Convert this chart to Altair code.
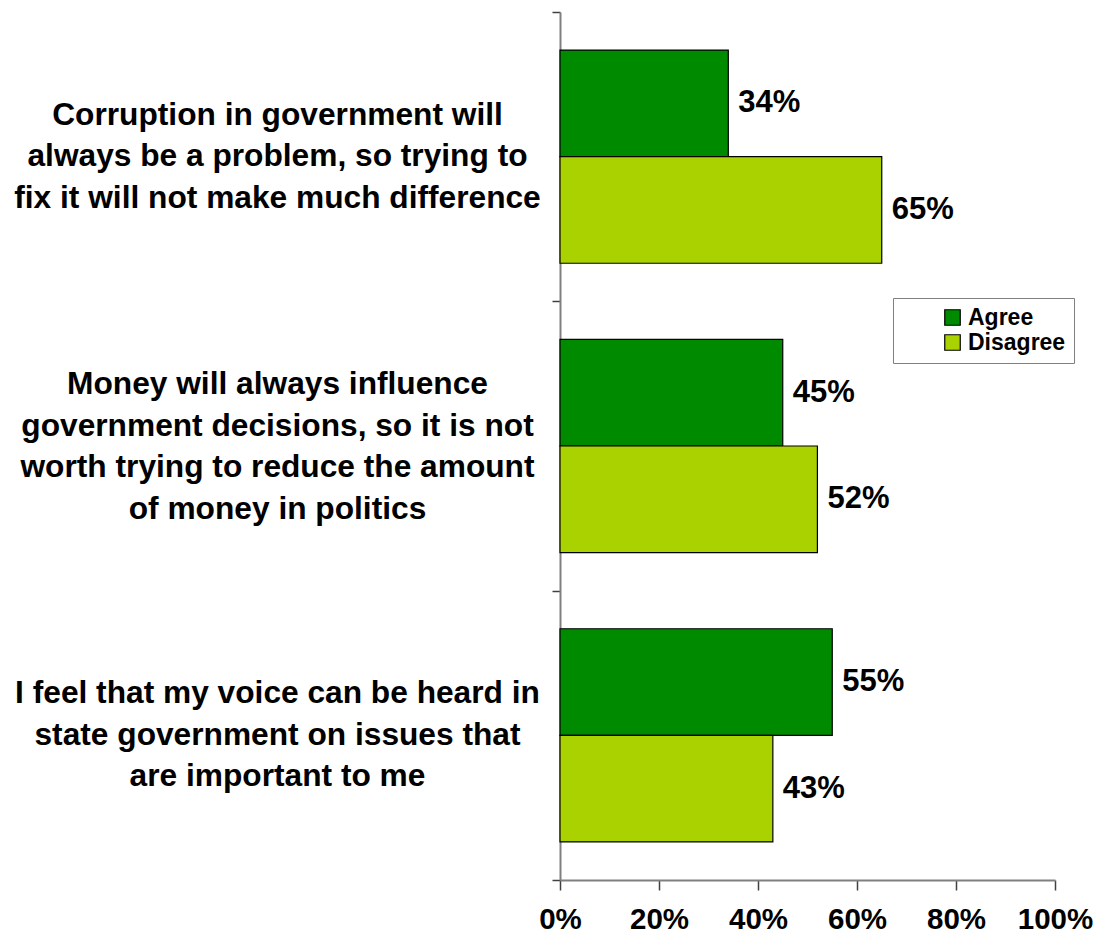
import altair as alt
import pandas as pd

categories = [
    "Corruption in government will|always be a problem, so trying to|fix it will not make much difference",
    "Money will always influence|government decisions, so it is not|worth trying to reduce the amount|of money in politics",
    "I feel that my voice can be heard in|state government on issues that|are important to me",
]
series = ["Agree", "Disagree"]
agree = [34, 45, 55]
disagree = [65, 52, 43]
x_ticks = [0, 20, 40, 60, 80, 100]
colors = ["#008A00", "#AAD200"]

rows = []
for c, a, d in zip(categories, agree, disagree):
    rows.append({"cat": c, "series": "Agree", "value": a})
    rows.append({"cat": c, "series": "Disagree", "value": d})
df = pd.DataFrame(rows)

FONT = "Liberation Sans"
LH = 41.5

y_enc = alt.Y(
    "cat:N",
    sort=categories,
    scale=alt.Scale(paddingInner=0, paddingOuter=0),
    axis=alt.Axis(
        title=None,
        tickBand="extent",
        tickSize=8,
        labelPadding=275,
        labelAlign="center",
        labelBaseline="middle",
        labelExpr="split(datum.label, '|')",
        labelLineHeight=LH,
        labelOffset={
            "condition": {"test": "length(split(datum.label, '|')) == 4", "value": -1.5 * LH},
            "value": -1.0 * LH - 1,
        },
        labelLimit=0,
        labelFont=FONT,
        labelFontSize=31.7,
        labelFontWeight="bold",
        labelColor="black",
        domainColor="#808080",
        domainWidth=2,
        tickColor="#404040",
        tickWidth=1.5,
    ),
)
x_enc = alt.X(
    "value:Q",
    scale=alt.Scale(domain=[0, 100], nice=False),
    axis=alt.Axis(
        title=None,
        values=x_ticks,
        grid=False,
        tickSize=10,
        labelPadding=15,
        labelExpr="datum.value + '%'",
        labelFont=FONT,
        labelFontSize=29.5,
        labelFontWeight="bold",
        labelColor="black",
        domainColor="#808080",
        domainWidth=2,
        tickColor="#404040",
        tickWidth=1.5,
        labelFlush=False,
    ),
)
yoff = alt.YOffset("series:N", sort=series, scale=alt.Scale(paddingInner=0, paddingOuter=0.357))

bars = alt.Chart(df).mark_bar(stroke="black", strokeWidth=1.2).encode(
    x=x_enc,
    y=y_enc,
    yOffset=yoff,
    color=alt.Color(
        "series:N",
        sort=series,
        scale=alt.Scale(domain=series, range=colors),
        legend=alt.Legend(
            title=None,
            orient="none",
            legendX=333,
            legendY=286,
            direction="vertical",
            symbolType="square",
            symbolSize=240,
            symbolStrokeColor="black",
            symbolStrokeWidth=1.2,
            symbolOffset=40,
            labelFont=FONT,
            labelFontSize=23,
            labelFontWeight="bold",
            labelColor="black",
            rowPadding=1,
            padding=8,
            strokeColor="#808080",
            fillColor="white",
            labelOffset=4,
        ),
    ),
)

labels = alt.Chart(df).transform_calculate(
    txt="datum.value + '%'"
).mark_text(
    align="left", baseline="middle", dx=10, font=FONT, fontSize=31, fontWeight="bold", color="black"
).encode(
    x=alt.X("value:Q"),
    y=alt.Y("cat:N", sort=categories),
    yOffset=alt.YOffset("series:N", sort=series),
    text="txt:N",
)

chart = (bars + labels).properties(
    width=495,
    height=868,
    autosize=alt.AutoSizeParams(type="none"),
    padding={"left": 552, "top": 4, "right": 56, "bottom": 53},
).configure_view(stroke=None)

chart.save("out.html", embed_options={"renderer": "svg", "actions": False})
